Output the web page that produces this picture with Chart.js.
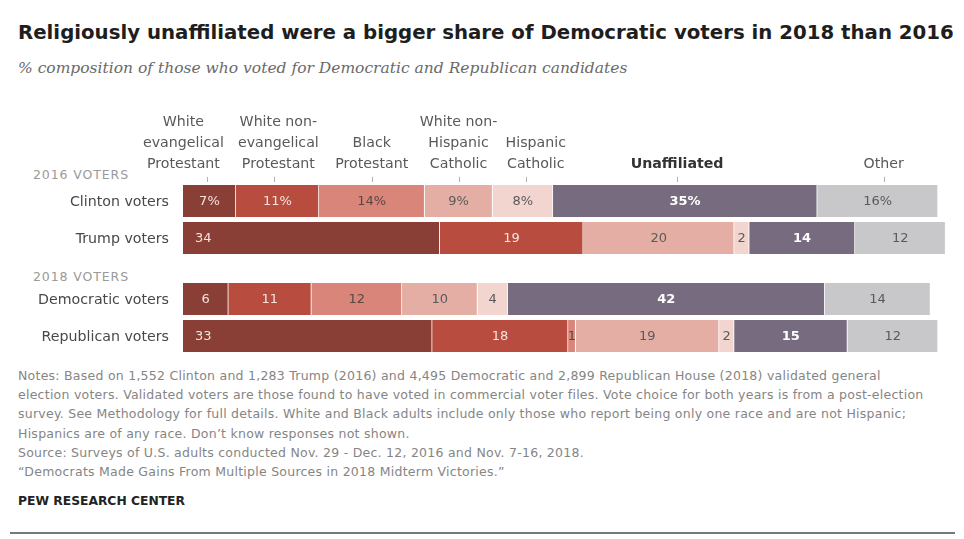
<!DOCTYPE html>
<html>
<head>
<meta charset="utf-8">
<script src="https://cdn.jsdelivr.net/npm/chart.js@4.4.0/dist/chart.umd.min.js"></script>
<style>
  body { margin: 0; background: #fff; width: 964px; height: 539px; position: relative; overflow: hidden; font-family: "DejaVu Sans", sans-serif; }
  .abs { position: absolute; }
  #title { left: 18px; top: 21px; font-size: 19.75px; font-weight: bold; color: #1e1e1e; white-space: nowrap; }
  #subtitle { left: 18px; top: 59px; font-family: "DejaVu Serif", Georgia, serif; font-style: italic; font-size: 15.5px; color: #6a6a6a; white-space: nowrap; }
  .group { left: 33px; font-size: 12.5px; letter-spacing: 0.9px; color: #9a9a9a; }
  #notes { left: 18px; top: 366px; width: 945px; font-size: 12.5px; letter-spacing: 0.25px; line-height: 19.2px; color: #858585; white-space: nowrap; }
  #pew { left: 18px; top: 494px; font-size: 12.3px; font-weight: bold; color: #222; }
  #rule { left: 10px; top: 532px; width: 945px; height: 2px; background: #777; }
</style>
</head>
<body>
<div id="title" class="abs">Religiously unaffiliated were a bigger share of Democratic voters in 2018 than 2016</div>
<div id="subtitle" class="abs">% composition of those who voted for Democratic and Republican candidates</div>
<div class="abs group" style="top:167px">2016 VOTERS</div>
<div class="abs group" style="top:269px">2018 VOTERS</div>
<canvas id="chart2016" class="abs" style="left:0;top:100px" width="964" height="160"></canvas>
<canvas id="chart2018" class="abs" style="left:0;top:265px" width="964" height="95"></canvas>
<div id="notes" class="abs">Notes: Based on 1,552 Clinton and 1,283 Trump (2016) and 4,495 Democratic and 2,899 Republican House (2018) validated general<br>election voters. Validated voters are those found to have voted in commercial voter files. Vote choice for both years is from a post-election<br>survey. See Methodology for full details. White and Black adults include only those who report being only one race and are not Hispanic;<br>Hispanics are of any race. Don’t know responses not shown.<br>Source: Surveys of U.S. adults conducted Nov. 29 - Dec. 12, 2016 and Nov. 7-16, 2018.<br>“Democrats Made Gains From Multiple Sources in 2018 Midterm Victories.”</div>
<div id="pew" class="abs">PEW RESEARCH CENTER</div>
<div id="rule" class="abs"></div>

<script>
// الفئات والقيم
const groups = ['White evangelical Protestant', 'White non-evangelical Protestant', 'Black Protestant',
  'White non-Hispanic Catholic', 'Hispanic Catholic', 'Unaffiliated', 'Other'];
const headerLines = [
  ['White', 'evangelical', 'Protestant'],
  ['White non-', 'evangelical', 'Protestant'],
  ['Black', 'Protestant'],
  ['White non-', 'Hispanic', 'Catholic'],
  ['Hispanic', 'Catholic'],
  ['Unaffiliated'],
  ['Other']
];
const rows2016 = ['Clinton voters', 'Trump voters'];
const rows2018 = ['Democratic voters', 'Republican voters'];

// 2016: Clinton, Trump
const whiteEvangelical2016 = [7, 34];
const whiteNonEvangelical2016 = [11, 19];
const blackProtestant2016 = [14, 0];
const whiteCatholic2016 = [9, 20];
const hispanicCatholic2016 = [8, 2];
const unaffiliated2016 = [35, 14];
const other2016 = [16, 12];

// 2018: Democratic, Republican
const whiteEvangelical2018 = [6, 33];
const whiteNonEvangelical2018 = [11, 18];
const blackProtestant2018 = [12, 1];
const whiteCatholic2018 = [10, 19];
const hispanicCatholic2018 = [4, 2];
const unaffiliated2018 = [42, 15];
const other2018 = [14, 12];

const colors = ['#8a3f36', '#b84c3f', '#d9857a', '#e4aea5', '#f3d5d0', '#776b7f', '#c8c8ca'];
const textColors = ['#f3e1dd', '#f6e3df', '#5a4744', '#5a5a5a', '#5a5a5a', '#ffffff', '#5a5a5a'];
const FONT = '"DejaVu Sans", sans-serif';

// برچسب ردیف‌ها و مقادیر روی میله‌ها
const barLabels = {
  id: 'barLabels',
  afterDatasetsDraw(chart, args, opts) {
    const ctx = chart.ctx;
    ctx.save();
    ctx.textBaseline = 'middle';
    // نام ردیف‌ها
    ctx.font = '14.2px ' + FONT;
    ctx.fillStyle = '#484848';
    ctx.textAlign = 'right';
    chart.data.labels.forEach((lab, i) => {
      ctx.fillText(lab, chart.chartArea.left - 14, chart.scales.y.getPixelForValue(i) + 1);
    });
    chart.data.datasets.forEach((ds, di) => {
      const meta = chart.getDatasetMeta(di);
      meta.data.forEach((bar, i) => {
        const v = ds.data[i];
        if (!v) return;
        const p = bar.getProps(['x', 'y', 'base'], true);
        const txt = v + (opts.percentRow === i ? '%' : '');
        ctx.font = (di === 5 ? 'bold ' : '') + '13px ' + FONT;
        ctx.fillStyle = textColors[di];
        if (di === 0 && v > 20) {
          ctx.textAlign = 'left';
          ctx.fillText(txt, p.base + 12, p.y + 1);
        } else {
          ctx.textAlign = 'center';
          ctx.fillText(txt, (p.x + p.base) / 2, p.y + 1);
        }
      });
    });
    ctx.restore();
  }
};

// عناوين الأعمدة فوق الرسم
const columnHeaders = {
  id: 'columnHeaders',
  afterDraw(chart, args, opts) {
    if (!opts.show) return;
    const ctx = chart.ctx;
    ctx.save();
    ctx.textAlign = 'center';
    ctx.textBaseline = 'middle';
    chart.data.datasets.forEach((ds, di) => {
      const bar = chart.getDatasetMeta(di).data[0];
      const p = bar.getProps(['x', 'base'], true);
      const mid = (p.x + p.base) / 2;
      const tx = Math.round(mid + opts.tickShift[di]) + 0.5;
      const cx = mid + opts.textShift[di];
      const lines = headerLines[di];
      lines.forEach((ln, li) => {
        const y = 64 - (lines.length - 1 - li) * 21;
        ctx.font = (di === 5 ? 'bold ' : '') + '14.2px ' + FONT;
        ctx.fillStyle = di === 5 ? '#333' : '#595959';
        ctx.fillText(ln, cx, y);
      });
      ctx.strokeStyle = '#b0b0b0';
      ctx.lineWidth = 1;
      ctx.beginPath();
      ctx.moveTo(tx, 77);
      ctx.lineTo(tx, 82);
      ctx.stroke();
    });
    ctx.restore();
  }
};

function makeDatasets(series) {
  return series.map((data, i) => ({
    label: groups[i],
    data: data,
    backgroundColor: colors[i],
    borderColor: 'rgba(255,255,255,0.7)',
    borderWidth: { right: 1 },
    borderSkipped: false,
    barThickness: 32
  }));
}

function makeChart(id, rows, series, padTop, padBottom, showHeaders) {
  return new Chart(document.getElementById(id), {
    type: 'bar',
    data: { labels: rows, datasets: makeDatasets(series) },
    options: {
      indexAxis: 'y',
      responsive: false,
      maintainAspectRatio: false,
      animation: false,
      layout: { padding: { top: padTop, bottom: padBottom, left: 0, right: 18.45 } },
      scales: {
        x: { stacked: true, min: 0, max: 101, display: false },
        y: {
          stacked: true,
          grid: { display: false },
          border: { display: false },
          ticks: { display: false },
          afterFit(scale) { scale.width = 183; }
        }
      },
      plugins: {
        legend: { display: false },
        tooltip: { enabled: false },
        barLabels: { percentRow: showHeaders ? 0 : -1 },
        columnHeaders: {
          show: showHeaders,
          tickShift: [-2, -3, 0, 0, 3, -8, 6],
          textShift: [-26, 1, 0, 0, 13, -8, 6]
        }
      }
    },
    plugins: [barLabels, columnHeaders]
  });
}

makeChart('chart2016', rows2016,
  [whiteEvangelical2016, whiteNonEvangelical2016, blackProtestant2016, whiteCatholic2016, hispanicCatholic2016, unaffiliated2016, other2016],
  82.5, 3.5, true);
makeChart('chart2018', rows2018,
  [whiteEvangelical2018, whiteNonEvangelical2018, blackProtestant2018, whiteCatholic2018, hispanicCatholic2018, unaffiliated2018, other2018],
  15.5, 5.5, false);
</script>
</body>
</html>
